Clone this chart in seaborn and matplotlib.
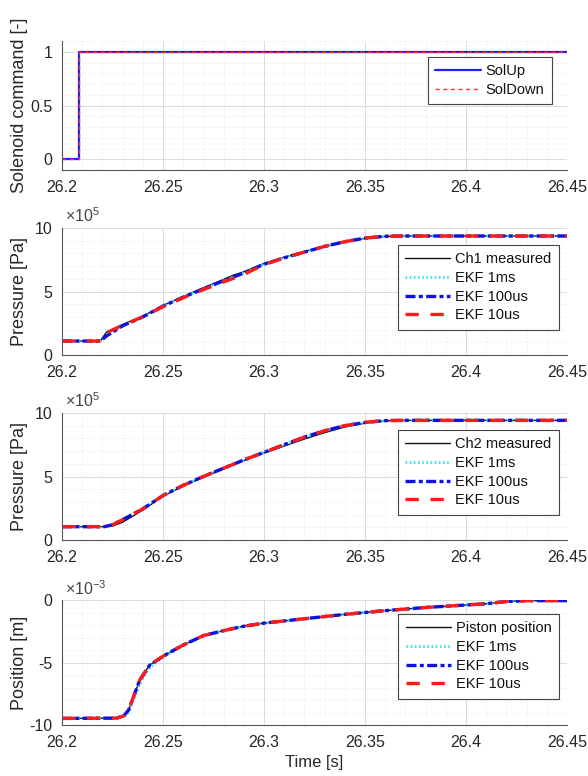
import numpy as np
import pandas as pd
import matplotlib
matplotlib.use("Agg")
import matplotlib.pyplot as plt
import seaborn as sns
from matplotlib.ticker import MultipleLocator, FixedLocator, FixedFormatter

# ---------------- data ----------------
x_ticks = [26.2, 26.25, 26.3, 26.35, 26.4, 26.45]
x_tick_labels = ["26.2", "26.25", "26.3", "26.35", "26.4", "26.45"]

# Panel 1: solenoid command
sol_t = [26.2, 26.2085, 26.2085, 26.45]
sol_up = [0, 0, 1, 1]
sol_down = [0, 0, 1, 1]

# Panel 2: chamber 1 pressure (units of 1e5 Pa)
p1_t = [26.200, 26.219, 26.222, 26.230, 26.240, 26.250, 26.260, 26.270, 26.280, 26.285,
        26.290, 26.300, 26.310, 26.320, 26.330, 26.340, 26.350, 26.360, 26.370, 26.450]
ch1_meas = [1.1, 1.1, 1.8, 2.4, 3.05, 3.9, 4.6, 5.3, 5.95, 6.3,
            6.55, 7.2, 7.7, 8.15, 8.55, 8.9, 9.17, 9.33, 9.37, 9.37]
ch1_ekf_1ms = [1.1, 1.1, 1.45, 2.3, 3.0, 3.85, 4.55, 5.2, 5.85, 6.15,
               6.45, 7.15, 7.65, 8.1, 8.55, 8.92, 9.2, 9.35, 9.37, 9.37]
ch1_ekf_100us = [1.1, 1.1, 1.5, 2.3, 3.0, 3.85, 4.55, 5.2, 5.85, 6.15,
                 6.45, 7.15, 7.65, 8.1, 8.55, 8.92, 9.2, 9.35, 9.37, 9.37]
ch1_ekf_10us = [1.1, 1.1, 1.75, 2.35, 3.0, 3.8, 4.5, 5.15, 5.75, 6.05,
                6.35, 7.1, 7.65, 8.1, 8.55, 8.92, 9.2, 9.35, 9.37, 9.37]

# Panel 3: chamber 2 pressure (units of 1e5 Pa)
p2_t = [26.200, 26.221, 26.225, 26.230, 26.240, 26.250, 26.260, 26.270, 26.280, 26.290,
        26.300, 26.310, 26.320, 26.330, 26.340, 26.350, 26.360, 26.370, 26.450]
ch2_meas = [1.05, 1.05, 1.1, 1.4, 2.35, 3.45, 4.25, 4.95, 5.6, 6.25,
            6.85, 7.4, 7.95, 8.45, 8.9, 9.2, 9.38, 9.42, 9.42]
ch2_ekf_1ms = [1.05, 1.05, 1.2, 1.6, 2.45, 3.5, 4.3, 5.0, 5.65, 6.3,
               6.9, 7.5, 8.1, 8.6, 9.0, 9.25, 9.4, 9.42, 9.42]
ch2_ekf_100us = [1.05, 1.05, 1.2, 1.6, 2.45, 3.5, 4.3, 5.0, 5.65, 6.3,
                 6.9, 7.5, 8.1, 8.6, 9.0, 9.25, 9.4, 9.42, 9.42]
ch2_ekf_10us = [1.05, 1.05, 1.2, 1.6, 2.45, 3.5, 4.3, 5.0, 5.65, 6.3,
                6.9, 7.5, 8.1, 8.6, 9.0, 9.27, 9.41, 9.42, 9.42]

# Panel 4: piston position (units of 1e-3 m)
p3_t = [26.200, 26.227, 26.2305, 26.233, 26.2355, 26.2385, 26.2435, 26.250, 26.260, 26.270,
        26.280, 26.290, 26.300, 26.320, 26.340, 26.360, 26.380, 26.400, 26.410, 26.420,
        26.430, 26.450]
pos_meas = [-9.47, -9.45, -9.28, -8.8, -7.7, -6.4, -5.2, -4.5, -3.6, -2.85,
            -2.45, -2.1, -1.85, -1.5, -1.15, -0.85, -0.6, -0.4, -0.3, -0.12,
            -0.05, -0.05]
pos_ekf_1ms = [-9.47, -9.45, -9.35, -9.0, -8.0, -6.7, -5.4, -4.6, -3.65, -2.88,
               -2.45, -2.1, -1.85, -1.5, -1.15, -0.85, -0.6, -0.4, -0.3, -0.12,
               -0.05, -0.05]
pos_ekf_100us = [-9.47, -9.45, -9.28, -8.8, -7.7, -6.4, -5.2, -4.5, -3.6, -2.85,
                 -2.45, -2.1, -1.85, -1.5, -1.15, -0.85, -0.6, -0.4, -0.3, -0.12,
                 -0.05, -0.05]
pos_ekf_10us = [-9.47, -9.45, -9.28, -8.8, -7.7, -6.4, -5.2, -4.5, -3.6, -2.85,
                -2.45, -2.1, -1.85, -1.5, -1.15, -0.85, -0.6, -0.4, -0.3, -0.12,
                -0.05, -0.05]

# ---------------- style ----------------
sns.set_style("white")
plt.rcParams["font.family"] = ["Liberation Sans", "DejaVu Sans"]
plt.rcParams["mathtext.fontset"] = "custom"
plt.rcParams["mathtext.rm"] = "Liberation Sans"

AX_COLOR = "#555555"
TICK_FS = 11.5
LABEL_FS = 13
LEG_FS = 10.5

fig = plt.figure(figsize=(5.88, 7.76), dpi=100)
rects = [
    [0.1054, 0.7809, 0.8588, 0.1662],
    [0.1054, 0.5425, 0.8588, 0.1637],
    [0.1054, 0.3041, 0.8588, 0.1637],
    [0.1054, 0.0657, 0.8588, 0.1611],
]
axes = [fig.add_axes(r) for r in rects]


def style_axis(ax, ylim, yticks, ylabels, yminor, ylabel):
    ax.set_xlim(26.2, 26.45)
    ax.set_ylim(*ylim)
    ax.xaxis.set_major_locator(FixedLocator(x_ticks))
    ax.xaxis.set_major_formatter(FixedFormatter(x_tick_labels))
    ax.xaxis.set_minor_locator(MultipleLocator(0.01))
    ax.yaxis.set_major_locator(FixedLocator(yticks))
    ax.yaxis.set_major_formatter(FixedFormatter(ylabels))
    ax.yaxis.set_minor_locator(MultipleLocator(yminor))
    ax.grid(True, which="major", color="#dadada", lw=0.7, ls="-")
    ax.grid(True, which="minor", color="#e2e2e2", lw=0.6, ls=(0, (1, 2)))
    ax.set_axisbelow(True)
    for s in ["top", "right"]:
        ax.spines[s].set_visible(False)
    for s in ["left", "bottom"]:
        ax.spines[s].set_color(AX_COLOR)
        ax.spines[s].set_linewidth(0.8)
    ax.tick_params(which="major", direction="in", length=4, width=0.8, color=AX_COLOR,
                   labelsize=TICK_FS, labelcolor="#262626", pad=7)
    ax.tick_params(which="minor", length=0)
    ax.set_ylabel(ylabel, fontsize=LABEL_FS, color="#262626")
    ax.yaxis.set_label_coords(-0.068, 0.5)
    ax.set_xlabel("")


def legend(ax, anchor):
    leg = ax.legend(loc="upper right", bbox_to_anchor=anchor, fontsize=LEG_FS,
                    frameon=True, fancybox=False, framealpha=1, edgecolor="#444444",
                    handlelength=3.1, handletextpad=0.35, labelspacing=0.32,
                    borderpad=0.5, borderaxespad=0.0)
    leg.get_frame().set_linewidth(0.8)
    for t in leg.get_texts():
        t.set_color("#111111")
    return leg


# Panel 1
ax = axes[0]
sns.lineplot(x=sol_t, y=sol_up, ax=ax, color="#2020ff", lw=1.6, estimator=None,
             sort=False, label="SolUp")
sns.lineplot(x=sol_t, y=sol_down, ax=ax, color="#ff3030", lw=1.0, estimator=None,
             sort=False, label="SolDown")
ax.lines[-1].set_dashes((3, 2.5))
style_axis(ax, (-0.1, 1.1), [0, 0.5, 1], ["0", "0.5", "1"], 0.1, "Solenoid command [-]")
legend(ax, (0.97, 0.876))


def est_panel(ax, t, meas, e1, e2, e3, meas_label):
    sns.lineplot(x=t, y=meas, ax=ax, color="#111111", lw=1.0, estimator=None, sort=False,
                 label=meas_label)
    sns.lineplot(x=t, y=e1, ax=ax, color="#33e6f0", lw=2.0, estimator=None, sort=False,
                 label="EKF 1ms")
    ax.lines[-1].set_linestyle((0, (0.6, 0.9)))
    sns.lineplot(x=t, y=e2, ax=ax, color="#1010e0", lw=2.4, estimator=None, sort=False,
                 label="EKF 100us")
    ax.lines[-1].set_linestyle((0, (3.0, 1.0, 1.2, 1.0)))
    sns.lineplot(x=t, y=e3, ax=ax, color="#ff1a1a", lw=2.4, estimator=None, sort=False,
                 label="EKF 10us")
    ax.lines[-1].set_linestyle((0, (4.0, 3.5)))


def offset_text(ax, txt):
    ax.text(0.005, 1.02, txt, transform=ax.transAxes, ha="left", va="bottom",
            fontsize=11.5, color="#444444")


# Panel 2
ax = axes[1]
est_panel(ax, p1_t, ch1_meas, ch1_ekf_1ms, ch1_ekf_100us, ch1_ekf_10us, "Ch1 measured")
style_axis(ax, (0, 10), [0, 5, 10], ["0", "5", "10"], 1, "Pressure [Pa]")
offset_text(ax, r"$\times10^{5}$")
legend(ax, (0.984, 0.866))

# Panel 3
ax = axes[2]
est_panel(ax, p2_t, ch2_meas, ch2_ekf_1ms, ch2_ekf_100us, ch2_ekf_10us, "Ch2 measured")
style_axis(ax, (0, 10), [0, 5, 10], ["0", "5", "10"], 1, "Pressure [Pa]")
offset_text(ax, r"$\times10^{5}$")
legend(ax, (0.984, 0.866))

# Panel 4
ax = axes[3]
est_panel(ax, p3_t, pos_meas, pos_ekf_1ms, pos_ekf_100us, pos_ekf_10us, "Piston position")
style_axis(ax, (-10, 0), [-10, -5, 0], ["-10", "-5", "0"], 1, "Position [m]")
offset_text(ax, r"$\times10^{-3}$")
legend(ax, (0.984, 0.888))
ax.set_xlabel("Time [s]", fontsize=12, color="#262626", labelpad=4)

fig.savefig("out.png", dpi=100)
